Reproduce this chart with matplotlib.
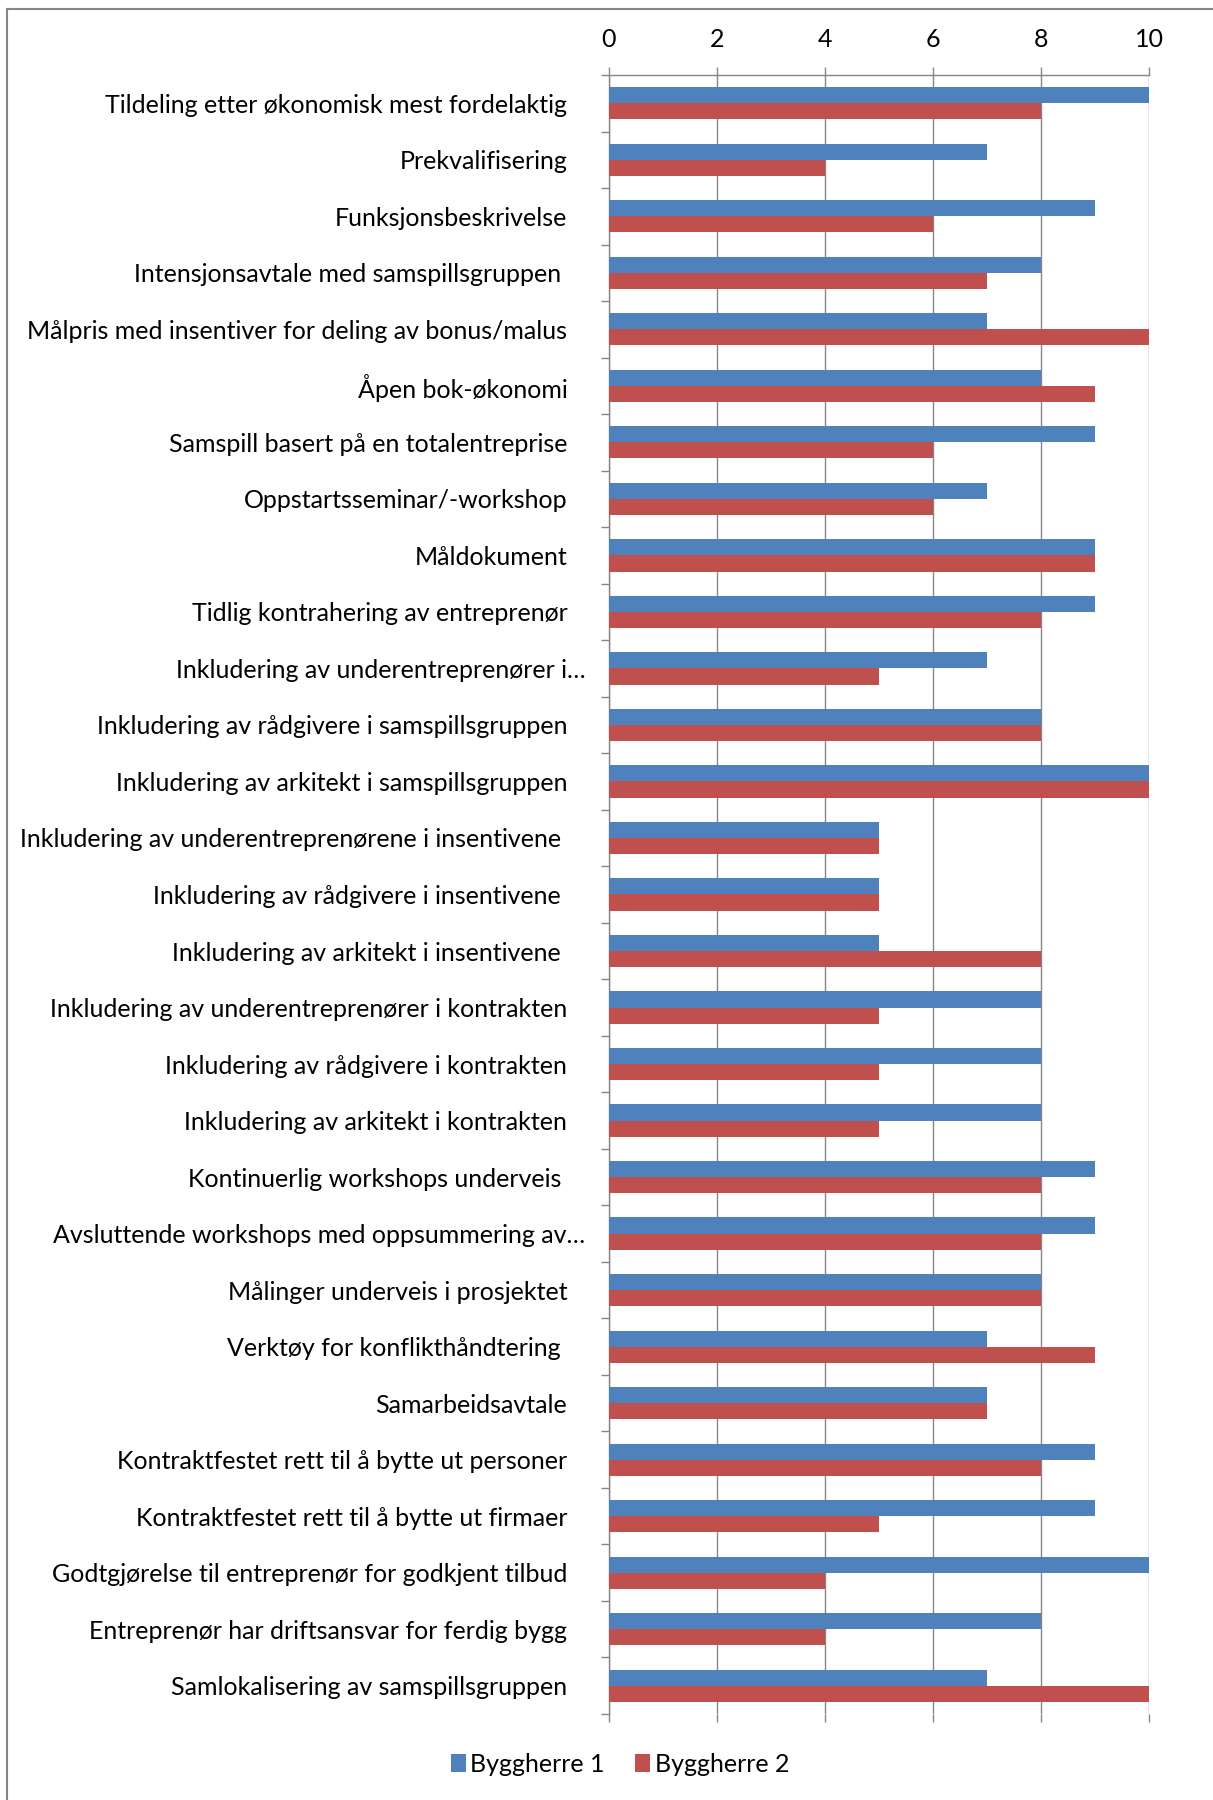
import matplotlib.pyplot as plt
from matplotlib.lines import Line2D
import matplotlib.transforms as mtransforms
import numpy as np

kategorier = [
    'Tildeling etter økonomisk mest fordelaktig',
    'Prekvalifisering',
    'Funksjonsbeskrivelse',
    'Intensjonsavtale med samspillsgruppen ',
    'Målpris med insentiver for deling av bonus/malus',
    'Åpen bok-økonomi',
    'Samspill basert på en totalentreprise',
    'Oppstartsseminar/-workshop',
    'Måldokument',
    'Tidlig kontrahering av entreprenør',
    'Inkludering av underentreprenører i…',
    'Inkludering av rådgivere i samspillsgruppen',
    'Inkludering av arkitekt i samspillsgruppen',
    'Inkludering av underentreprenørene i insentivene ',
    'Inkludering av rådgivere i insentivene ',
    'Inkludering av arkitekt i insentivene ',
    'Inkludering av underentreprenører i kontrakten',
    'Inkludering av rådgivere i kontrakten',
    'Inkludering av arkitekt i kontrakten',
    'Kontinuerlig workshops underveis ',
    'Avsluttende workshops med oppsummering av…',
    'Målinger underveis i prosjektet',
    'Verktøy for konflikthåndtering ',
    'Samarbeidsavtale',
    'Kontraktfestet rett til å bytte ut personer',
    'Kontraktfestet rett til å bytte ut firmaer',
    'Godtgjørelse til entreprenør for godkjent tilbud',
    'Entreprenør har driftsansvar for ferdig bygg',
    'Samlokalisering av samspillsgruppen',
]
byggherre1 = [10, 7, 9, 8, 7, 8, 9, 7, 9, 9, 7, 8, 10, 5, 5, 5, 8, 8, 8, 9, 9, 8, 7, 7, 9, 9, 10, 8, 7]
byggherre2 = [8, 4, 6, 7, 10, 9, 6, 6, 9, 8, 5, 8, 10, 5, 5, 8, 5, 5, 5, 8, 8, 8, 9, 7, 8, 5, 4, 4, 10]
serier = ['Byggherre 1', 'Byggherre 2']

blaa = '#4F81BD'
roed = '#C0504D'
graa = '#868686'

plt.rcParams['font.family'] = ['Lato', 'DejaVu Sans']
fs = 18

fig = plt.figure(figsize=(12.13, 18.0), dpi=100)
W, H = 1213, 1800
ax = fig.add_axes([609 / W, 1 - 1714 / H, (1149 - 609) / W, (1714 - 75) / H])

y = np.arange(len(kategorier))
h = 0.285
ax.barh(y - h / 2, byggherre1, height=h, color=blaa, label=serier[0], zorder=3)
ax.barh(y + h / 2, byggherre2, height=h, color=roed, label=serier[1], zorder=3)

ax.set_ylim(len(kategorier) - 0.5, -0.5)
ax.set_xlim(0, 10)
ax.set_xticks([0, 2, 4, 6, 8, 10])
ax.xaxis.tick_top()
ax.tick_params(axis='x', which='both', top=True, bottom=True, length=6,
               width=1, color=graa, pad=11, labelsize=fs)
ax.grid(axis='x', color=graa, linewidth=1, zorder=0)

# kategorietiketter midt i hver rad, tick-streker mellom radene
ax.set_yticks(y)
ax.set_yticklabels(kategorier, fontsize=fs)
ax.set_yticks(np.arange(len(kategorier) + 1) - 0.5, minor=True)
ax.tick_params(axis='y', which='major', length=0, pad=30)
ax.tick_params(axis='y', which='minor', length=6, width=1, color=graa)

# avkortede etiketter stikker litt lenger mot høyre
skyv = mtransforms.ScaledTranslation(18 / 100, 0, fig.dpi_scale_trans)
for lbl in ax.get_yticklabels():
    if lbl.get_text().endswith('…'):
        lbl.set_transform(lbl.get_transform() + skyv)

for s in ['right', 'bottom']:
    ax.spines[s].set_visible(False)
for s in ['left', 'top']:
    ax.spines[s].set_color(graa)
    ax.spines[s].set_linewidth(1)

fig.legend(loc='center', bbox_to_anchor=(620 / W, 1 - 1764 / H), ncol=2,
           frameon=False, fontsize=fs, handlelength=0.6, handleheight=0.7,
           handletextpad=0.2, columnspacing=1.2)

# ramme rundt diagramområdet
fig.add_artist(Line2D([7 / W, 1], [1 - 9 / H, 1 - 9 / H], color=graa, lw=1.5))
fig.add_artist(Line2D([7 / W, 7 / W], [0, 1 - 9 / H], color=graa, lw=1.5))

fig.savefig('out.png', dpi=100)
